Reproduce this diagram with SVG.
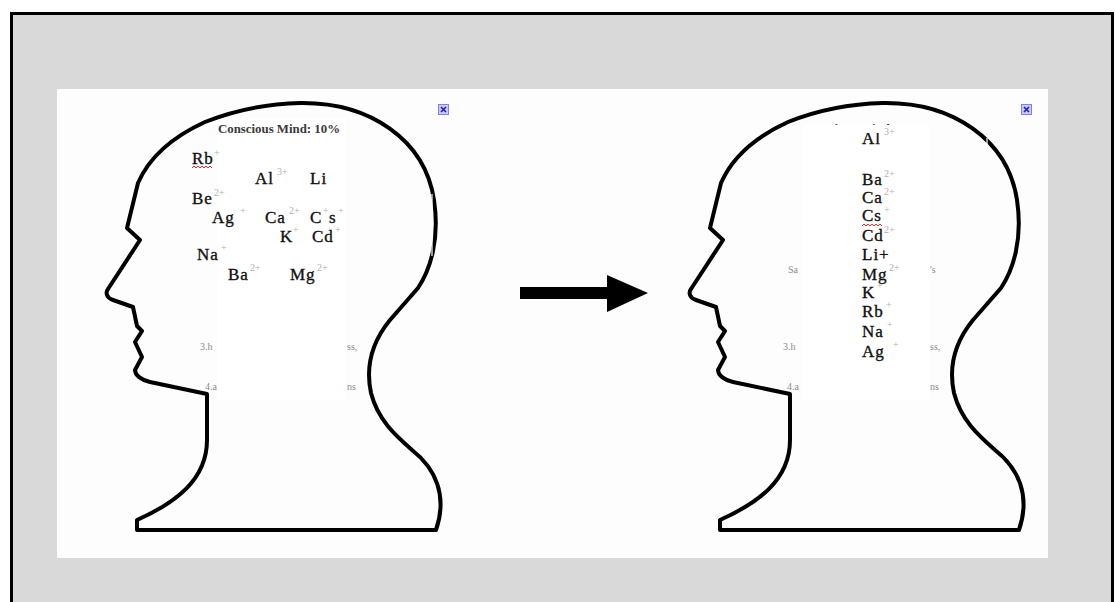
<svg xmlns="http://www.w3.org/2000/svg" width="1115" height="602" viewBox="0 0 1115 602">
  <style>
    .outline { fill: none; stroke: #000; stroke-width: 4; stroke-linejoin: round; stroke-linecap: round; }
    .ion { font-family: "Liberation Serif", "Times New Roman", serif; font-size: 17px; letter-spacing: 1px; fill: #111; stroke: #111; stroke-width: 0.35; }
    .chg { font-family: "Liberation Serif", serif; font-size: 10px; fill: #b0b0b0; }
    .title { font-family: "Liberation Serif", serif; font-size: 12px; font-weight: bold; fill: #3a3a3a; }
    .faint { font-family: "Liberation Serif", serif; font-size: 10px; fill: #8a8a8a; }
    .squiggle { fill: none; stroke: #e03030; stroke-width: 1; }
    .icon { fill: #c8c8ff; stroke: #8080f0; stroke-width: 1; }
    .icon-x { stroke: #2020b0; stroke-width: 1.6; }
  </style>
  <defs>
    <!-- profile of a head and shoulders, facing left -->
    <path id="head-outline" d="M 127 228 L 138 183 C 148 160, 170 138, 205 122 C 230 112, 260 104, 300 103
      C 370 102, 425 140, 434 200 C 440 240, 430 270, 418 288 L 390 320
      C 372 342, 365 365, 371 393 C 378 420, 395 435, 412 450 C 435 468, 448 495, 436 530
      L 137 530 L 137 520 C 175 503, 207 480, 207 440 L 207 394
      L 150 382 C 141 380, 135 375, 135 370 L 142 357 L 135 342 L 142 331 L 137 326 L 133 307
      L 113 300 C 107 298, 105 293, 108 289 L 140 240 Z"/>
    <clipPath id="clip-title-right"><rect x="790" y="115" width="150" height="11"/></clipPath>
    <clipPath id="clip-al-right"><rect x="850" y="133" width="60" height="20"/></clipPath>
  </defs>

  <!-- slide background and frame -->
  <rect x="11.5" y="13.5" width="1101" height="600" fill="#d9d9d9" stroke="#000" stroke-width="3"/>
  <rect x="57" y="89" width="991" height="469" fill="#fdfdfd"/>

  <!-- left picture: ions scattered in the head -->
  <g id="left-head">
    <rect x="218" y="118" width="127" height="282" fill="#fff"/>
    <use href="#head-outline" class="outline"/>
    <line x1="432" y1="194" x2="432" y2="256" stroke="#fff" stroke-width="1.2"/>
    <rect class="icon" x="438.5" y="104.5" width="10" height="10"/>
    <path class="icon-x" d="M441 107 L446 112 M446 107 L441 112"/>
    <text class="title" x="218" y="133" textLength="122" lengthAdjust="spacingAndGlyphs">Conscious Mind: 10%</text>

    <text class="ion" x="192" y="164">Rb</text><text class="chg" x="214" y="156">+</text>
    <path class="squiggle" d="M192 168 l2 -2 l2 2 l2 -2 l2 2 l2 -2 l2 2 l2 -2 l2 2 l2 -2 l2 2"/>
    <text class="ion" x="255" y="184">Al</text><text class="chg" x="277" y="175">3+</text>
    <text class="ion" x="310" y="184">Li</text>
    <text class="ion" x="192" y="204">Be</text><text class="chg" x="214" y="196">2+</text>
    <text class="ion" x="212" y="223">Ag</text><text class="chg" x="240" y="214">+</text>
    <text class="ion" x="265" y="223">Ca</text><text class="chg" x="289" y="214">2+</text>
    <text class="ion" x="310" y="223">C</text><text class="chg" x="323" y="214">+</text>
    <text class="ion" x="329" y="223">s</text><text class="chg" x="338" y="214">+</text>
    <text class="ion" x="280" y="242">K</text><text class="chg" x="293" y="233">+</text>
    <text class="ion" x="312" y="242">Cd</text><text class="chg" x="335" y="233">+</text>
    <text class="ion" x="197" y="260">Na</text><text class="chg" x="221" y="251">+</text>
    <text class="ion" x="228" y="280">Ba</text><text class="chg" x="250" y="271">2+</text>
    <text class="ion" x="290" y="280">Mg</text><text class="chg" x="317" y="271">2+</text>

    <text class="faint" x="200" y="350">3.h</text>
    <text class="faint" x="347" y="350">ss,</text>
    <text class="faint" x="205" y="390">4.a</text>
    <text class="faint" x="347" y="390">ns</text>
  </g>

  <!-- right picture: the same ions sorted into a column -->
  <g id="right-head">
    <text class="title" x="801" y="133" textLength="122" lengthAdjust="spacingAndGlyphs" clip-path="url(#clip-title-right)">Conscious Mind: 10%</text>
    <rect x="803" y="125" width="127" height="275" fill="#fff"/>
    <use href="#head-outline" class="outline" transform="translate(583 0)"/>
    <line x1="987" y1="138" x2="987" y2="150" stroke="#fff" stroke-width="1.2"/>
    <rect class="icon" x="1021.5" y="104.5" width="10" height="10"/>
    <path class="icon-x" d="M1024 107 L1029 112 M1029 107 L1024 112"/>

    <text class="ion" x="862" y="144" clip-path="url(#clip-al-right)">Al</text><text class="chg" x="884" y="135">3+</text>
    <text class="ion" x="862" y="185">Ba</text><text class="chg" x="884" y="177">2+</text>
    <text class="ion" x="862" y="203">Ca</text><text class="chg" x="884" y="195">2+</text>
    <text class="ion" x="862" y="221">Cs</text><text class="chg" x="884" y="213">+</text>
    <path class="squiggle" d="M862 226 l2 -2 l2 2 l2 -2 l2 2 l2 -2 l2 2 l2 -2 l2 2 l2 -2 l2 2"/>
    <text class="ion" x="862" y="241">Cd</text><text class="chg" x="884" y="233">2+</text>
    <text class="ion" x="862" y="260">Li+</text>
    <text class="ion" x="862" y="280">Mg</text><text class="chg" x="889" y="271">2+</text>
    <text class="ion" x="862" y="298">K</text><text class="chg" x="877" y="289">+</text>
    <text class="ion" x="862" y="317">Rb</text><text class="chg" x="886" y="308">+</text>
    <text class="ion" x="862" y="337">Na</text><text class="chg" x="887" y="328">+</text>
    <text class="ion" x="862" y="357">Ag</text><text class="chg" x="893" y="348">+</text>

    <text class="faint" x="788" y="273">Sa</text>
    <text class="faint" x="930" y="273">'s</text>
    <text class="faint" x="783" y="350">3.h</text>
    <text class="faint" x="930" y="350">ss,</text>
    <text class="faint" x="787" y="390">4.a</text>
    <text class="faint" x="930" y="390">ns</text>
  </g>

  <g id="connectors">
    <polygon points="520,287 607,287 607,275 648,293 607,312 607,299 520,299" fill="#000"/>
  </g>
</svg>
